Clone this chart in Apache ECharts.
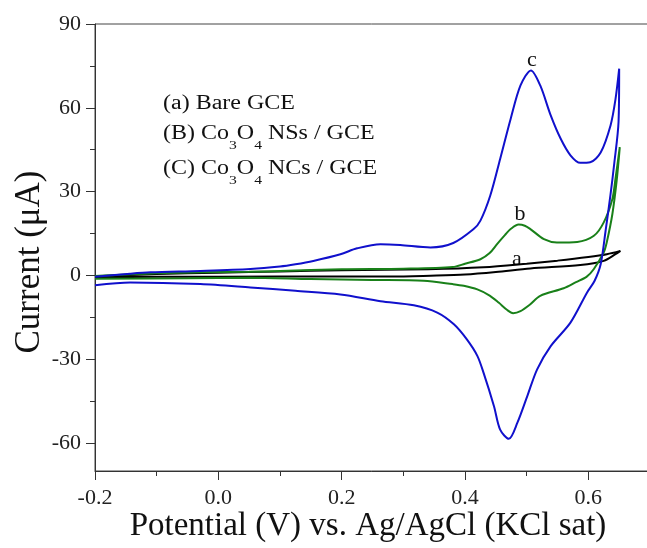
<!DOCTYPE html>
<html>
<head>
<meta charset="utf-8">
<script src="https://cdn.jsdelivr.net/npm/echarts@6/dist/echarts.min.js"></script>
<style>
  html, body { margin: 0; padding: 0; background: #fff; }
  #chart { width: 647px; height: 548px; }
</style>
</head>
<body>
<div id="chart"></div>
<script>
// potential (V) / current (uA), each loop = forward sweep then reverse sweep
var bareV = [-0.2, -0.1, 0.0, 0.1, 0.2, 0.34, 0.43, 0.5, 0.55, 0.6, 0.63, 0.652,
             0.644, 0.625, 0.587, 0.506, 0.45, 0.4, 0.344, 0.28, 0.1, -0.1, -0.2];
var bareI = [-0.3, 0.5, 1.0, 1.4, 1.9, 2.2, 2.9, 4.2, 5.3, 6.6, 7.6, 8.8,
             7.6, 5.2, 3.7, 2.5, 1.2, 0.3, -0.1, -0.4, -0.4, -0.5, -0.7];

var nssV = [-0.2, -0.11, -0.03, 0.05, 0.1, 0.2, 0.3, 0.38, 0.4, 0.425, 0.44, 0.452, 0.465, 0.474, 0.487,
            0.497, 0.506, 0.528, 0.549, 0.582, 0.609, 0.625, 0.639, 0.644, 0.651,
            0.646, 0.639, 0.63, 0.625, 0.609, 0.597, 0.58, 0.56, 0.522, 0.505, 0.49, 0.478, 0.468, 0.455,
            0.44, 0.42, 0.398, 0.38, 0.333, 0.25, 0.15, 0.05, -0.05, -0.2];
var nssI = [-0.2, 0.7, 1.1, 1.3, 1.6, 2.2, 2.4, 3.0, 4.2, 5.8, 8.0, 11.2, 14.5, 16.6, 18.2,
            17.8, 16.6, 13.0, 11.8, 12.0, 14.2, 19.0, 27.4, 34.6, 45.9,
            34, 22, 12, 8.3, 2.3, -0.5, -2.4, -4.6, -7.3, -10.5, -12.8, -13.5, -12.3, -9.8,
            -7.2, -5.0, -3.7, -3.1, -1.9, -1.6, -1.3, -0.8, -1.0, -1.2];

var ncsV = [-0.2, -0.143, -0.11, -0.029, 0.052, 0.1, 0.125, 0.154, 0.198, 0.225, 0.263, 0.295, 0.344,
            0.381, 0.414, 0.425, 0.441, 0.457, 0.474, 0.49, 0.507, 0.522, 0.539, 0.555, 0.571,
            0.587, 0.603, 0.62, 0.636, 0.644, 0.65,
            0.649, 0.642, 0.636, 0.628, 0.62, 0.61, 0.598, 0.571, 0.539, 0.517, 0.501, 0.485, 0.471,
            0.457, 0.447, 0.43, 0.42, 0.403, 0.382, 0.355, 0.317, 0.263, 0.198, 0.125, 0.052,
            -0.029, -0.143, -0.2];
var ncsI = [-0.5, 0.6, 1.1, 1.6, 2.3, 3.2, 4.0, 5.2, 7.6, 9.7, 11.2, 10.9, 10.0,
            11.6, 16.6, 19.6, 28.6, 41.7, 56, 68, 73.4, 68, 57.3, 49, 43,
            40.3, 40.5, 44, 53.7, 63, 74,
            55, 40, 29, 16, 4, -2, -6.1, -16.9, -25.3, -33.6, -43.2, -52.7, -58.5,
            -55.2, -46.8, -34.8, -28.8, -22.9, -17.5, -13.3, -10.7, -9.2, -6.8, -5.5, -4.3,
            -3.1, -2.5, -3.5];

var yMajor = [-60, -30, 0, 30, 60, 90];
var yMinor = [-45, -15, 15, 45, 75];

function pairs(xs, ys) {
    var out = [];
    for (var i = 0; i < xs.length; i++) out.push([xs[i], ys[i]]);
    return out;
}

var serif = 'Liberation Serif';
var chart = echarts.init(document.getElementById('chart'));

var subStyle = {fontFamily: serif, fontSize: 13, lineHeight: 14, padding: [24, 0, 0, 0], fill: '#111'};

var option = {
    animation: false,
    grid: {
        left: 95, top: 24, width: 555, height: 447,
        outerBoundsMode: 'none', containLabel: false,
        show: true, borderColor: '#444', borderWidth: 1, backgroundColor: 'transparent'
    },
    xAxis: {
        type: 'value',
        min: -0.2,
        max: 0.7,
        interval: 0.2,
        axisLine: {onZero: false, lineStyle: {color: '#333', width: 1}},
        axisTick: {length: 9, lineStyle: {color: '#333'}},
        minorTick: {show: true, splitNumber: 2, length: 5, lineStyle: {color: '#333'}},
        splitLine: {show: false},
        axisLabel: {
            fontFamily: serif, fontSize: 22, color: '#222', margin: 16,
            formatter: function (v) { return v > 0.65 ? '' : v.toFixed(1); }
        }
    },
    yAxis: [
        {
            type: 'value',
            min: -70,
            max: 90,
            position: 'left',
            axisLine: {show: true, onZero: false, lineStyle: {color: '#333', width: 1}},
            axisTick: {show: true, length: 9, customValues: yMajor, lineStyle: {color: '#333'}},
            splitLine: {show: false},
            axisLabel: {fontFamily: serif, fontSize: 22, color: '#222', margin: 14, customValues: yMajor}
        },
        {
            type: 'value',
            min: -70,
            max: 90,
            position: 'left',
            offset: 0,
            axisLine: {show: false, onZero: false},
            axisTick: {show: true, length: 5, customValues: yMinor, lineStyle: {color: '#333'}},
            splitLine: {show: false},
            axisLabel: {show: false}
        }
    ],
    series: [
        {
            name: 'Bare GCE', type: 'line', smooth: 0.3, showSymbol: false,
            data: pairs(bareV, bareI),
            lineStyle: {color: '#000', width: 2}
        },
        {
            name: 'Co3O4 NSs / GCE', type: 'line', smooth: 0.3, showSymbol: false,
            data: pairs(nssV, nssI),
            lineStyle: {color: '#198019', width: 2}
        },
        {
            name: 'Co3O4 NCs / GCE', type: 'line', smooth: 0.3, showSymbol: false,
            data: pairs(ncsV, ncsI),
            lineStyle: {color: '#1010cc', width: 2}
        }
    ],
    graphic: [
        {
            type: 'text', x: 30, y: 262, rotation: Math.PI / 2,
            style: {text: 'Current (μA)', font: '35px "Liberation Serif"', fill: '#111',
                    align: 'center', verticalAlign: 'middle'}
        },
        {
            type: 'text', x: 368, y: 526,
            style: {text: 'Potential (V) vs. Ag/AgCl (KCl sat)', font: '33px "Liberation Serif"', fill: '#111',
                    align: 'center', verticalAlign: 'middle'}
        },
        {
            type: 'text', x: 163, y: 104, scaleX: 1.2,
            style: {text: '(a) Bare GCE', font: '20px "Liberation Serif"', fill: '#111',
                    align: 'left', verticalAlign: 'middle'}
        },
        {
            type: 'text', x: 163, y: 134, scaleX: 1.2,
            style: {
                text: '(B) Co{s|3}O{s|4} NSs / GCE', fontFamily: serif, fontSize: 20, fill: '#111',
                align: 'left', verticalAlign: 'middle', rich: {s: subStyle}
            }
        },
        {
            type: 'text', x: 163, y: 169, scaleX: 1.2,
            style: {
                text: '(C) Co{s|3}O{s|4} NCs / GCE', fontFamily: serif, fontSize: 20, fill: '#111',
                align: 'left', verticalAlign: 'middle', rich: {s: subStyle}
            }
        },
        {
            type: 'text', x: 517, y: 259,
            style: {text: 'a', font: '22px "Liberation Serif"', fill: '#111', align: 'center', verticalAlign: 'middle'}
        },
        {
            type: 'text', x: 520, y: 214,
            style: {text: 'b', font: '22px "Liberation Serif"', fill: '#111', align: 'center', verticalAlign: 'middle'}
        },
        {
            type: 'text', x: 532, y: 60,
            style: {text: 'c', font: '22px "Liberation Serif"', fill: '#111', align: 'center', verticalAlign: 'middle'}
        }
    ]
};

chart.setOption(option);
</script>
</body>
</html>
